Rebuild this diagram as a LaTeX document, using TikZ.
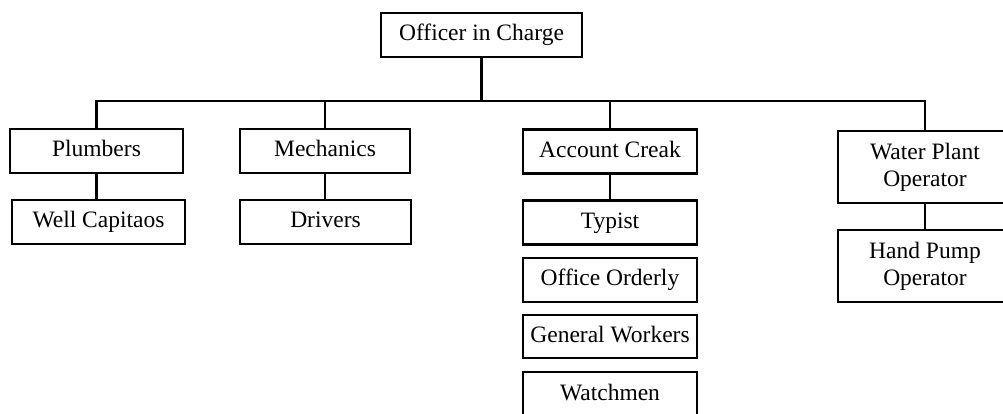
\documentclass[tikz,border=0pt]{standalone}
\usepackage{fontspec}
\setmainfont{Liberation Serif}
\begin{document}
\begin{tikzpicture}[x=1pt,y=-1pt,
  box/.style={draw, line width=2.4pt, inner sep=1pt, minimum width=173pt,
    minimum height=44pt, align=center, text height=16pt, text depth=5pt,
    font=\fontsize{23.5}{27}\selectfont},
  box2/.style={box, text height=, text depth=},
  conn/.style={line width=2.6pt}]
\useasboundingbox (0,0) rectangle (1003,413);
\clip (0,0) rectangle (1003,413);
\fill[white] (0,0) rectangle (1003,413);
\node[box, minimum width=201pt] (officer) at (481.5,35) {Officer in Charge};
\node[box] (plumb) at (96.5,151) {Plumbers};
\node[box] (well) at (98.5,222) {Well Capitaos};
\node[box, minimum width=170pt] (mech) at (325,151) {Mechanics};
\node[box, minimum width=171pt] (drivers) at (325.5,222) {Drivers};
\node[box, minimum width=174pt] (acc) at (610,151.5) {Account Creak};
\node[box, minimum width=174pt] (typist) at (610,222.5) {Typist};
\node[box, minimum width=174pt] (orderly) at (610,280) {Office Orderly};
\node[box, minimum width=174pt, minimum height=43pt] (general) at (610,336.5) {General Workers};
\node[box, minimum width=174pt, minimum height=46pt] (watch) at (610,395) {Watchmen};
\node[box2, minimum width=174pt, minimum height=72pt] (water) at (925,167) {Water Plant\\Operator};
\node[box2, minimum width=174pt, minimum height=72pt] (hand) at (925,266) {Hand Pump\\Operator};
\coordinate (bus) at (0,101);
\draw[conn] (officer.south) -- (officer.south |- bus);
\draw[conn] (plumb.north) -- (plumb.north |- bus) -- (water.north |- bus) -- (water.north);
\draw[conn] (mech.north) -- (mech.north |- bus);
\draw[conn] (acc.north) -- (acc.north |- bus);
\draw[conn] (plumb.south) -- (plumb.south |- well.north);
\draw[conn] (mech.south) -- (mech.south |- drivers.north);
\draw[conn] (acc.south) -- (typist.north);
\draw[conn] (water.south) -- (hand.north);
\end{tikzpicture}
\end{document}
